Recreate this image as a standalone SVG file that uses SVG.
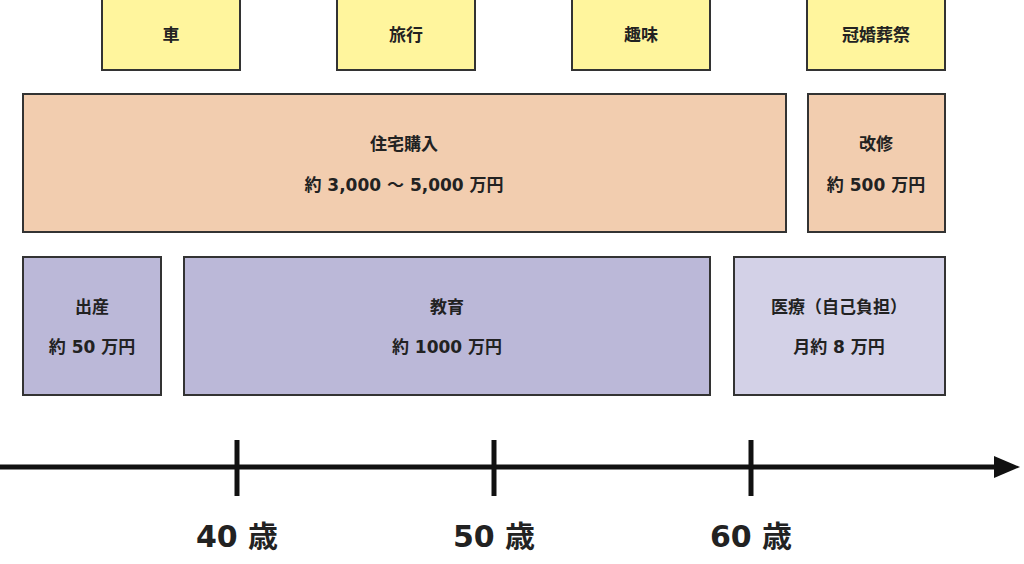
<svg xmlns="http://www.w3.org/2000/svg" width="1024" height="564" viewBox="0 0 1024 564">
<style>
.b{stroke:#333;stroke-width:2}
.y{fill:#FFF59D}.p{fill:#F2CDAF}.v{fill:#BBB8D8}.l{fill:#D3D1E7}
text{font-family:"DejaVu Sans","Noto Sans CJK JP",sans-serif;font-weight:bold;fill:#222;text-anchor:middle}
.t{font-size:17px}.a{font-size:30px}
</style>
<rect width="1024" height="564" fill="#fff"/>
<g id="car"><rect class="b y" x="102" y="-2" width="138" height="72"/><text class="t" x="171" y="41">車</text></g>
<g id="travel"><rect class="b y" x="337" y="-2" width="138" height="72"/><text class="t" x="406" y="41">旅行</text></g>
<g id="hobby"><rect class="b y" x="572" y="-2" width="138" height="72"/><text class="t" x="641" y="41">趣味</text></g>
<g id="ceremony"><rect class="b y" x="807" y="-2" width="138" height="72"/><text class="t" x="876" y="41">冠婚葬祭</text></g>
<g id="house"><rect class="b p" x="23" y="94" width="763" height="138"/><text class="t" x="404" y="150">住宅購入</text><text class="t" x="404" y="191">約 3,000 ～ 5,000 万円</text></g>
<g id="reform"><rect class="b p" x="808" y="94" width="137" height="138"/><text class="t" x="876" y="150">改修</text><text class="t" x="876" y="191">約 500 万円</text></g>
<g id="birth"><rect class="b v" x="23" y="257" width="138" height="138"/><text class="t" x="92" y="313">出産</text><text class="t" x="92" y="353">約 50 万円</text></g>
<g id="edu"><rect class="b v" x="184" y="257" width="526" height="138"/><text class="t" x="447" y="313">教育</text><text class="t" x="447" y="353">約 1000 万円</text></g>
<g id="medical"><rect class="b l" x="734" y="257" width="211" height="138"/><text class="t" x="839" y="313">医療（自己負担）</text><text class="t" x="839" y="353">月約 8 万円</text></g>
<g id="connectors" stroke="#111" stroke-width="5">
<line x1="0" y1="467" x2="1000" y2="467"/>
<polygon points="994,456 1020,467 994,478" fill="#111" stroke="none"/>
<line x1="237" y1="440" x2="237" y2="496"/>
<line x1="494" y1="440" x2="494" y2="496"/>
<line x1="751" y1="440" x2="751" y2="496"/>
</g>
<text class="a" x="237" y="547">40 歳</text>
<text class="a" x="494" y="547">50 歳</text>
<text class="a" x="751" y="547">60 歳</text>
</svg>
